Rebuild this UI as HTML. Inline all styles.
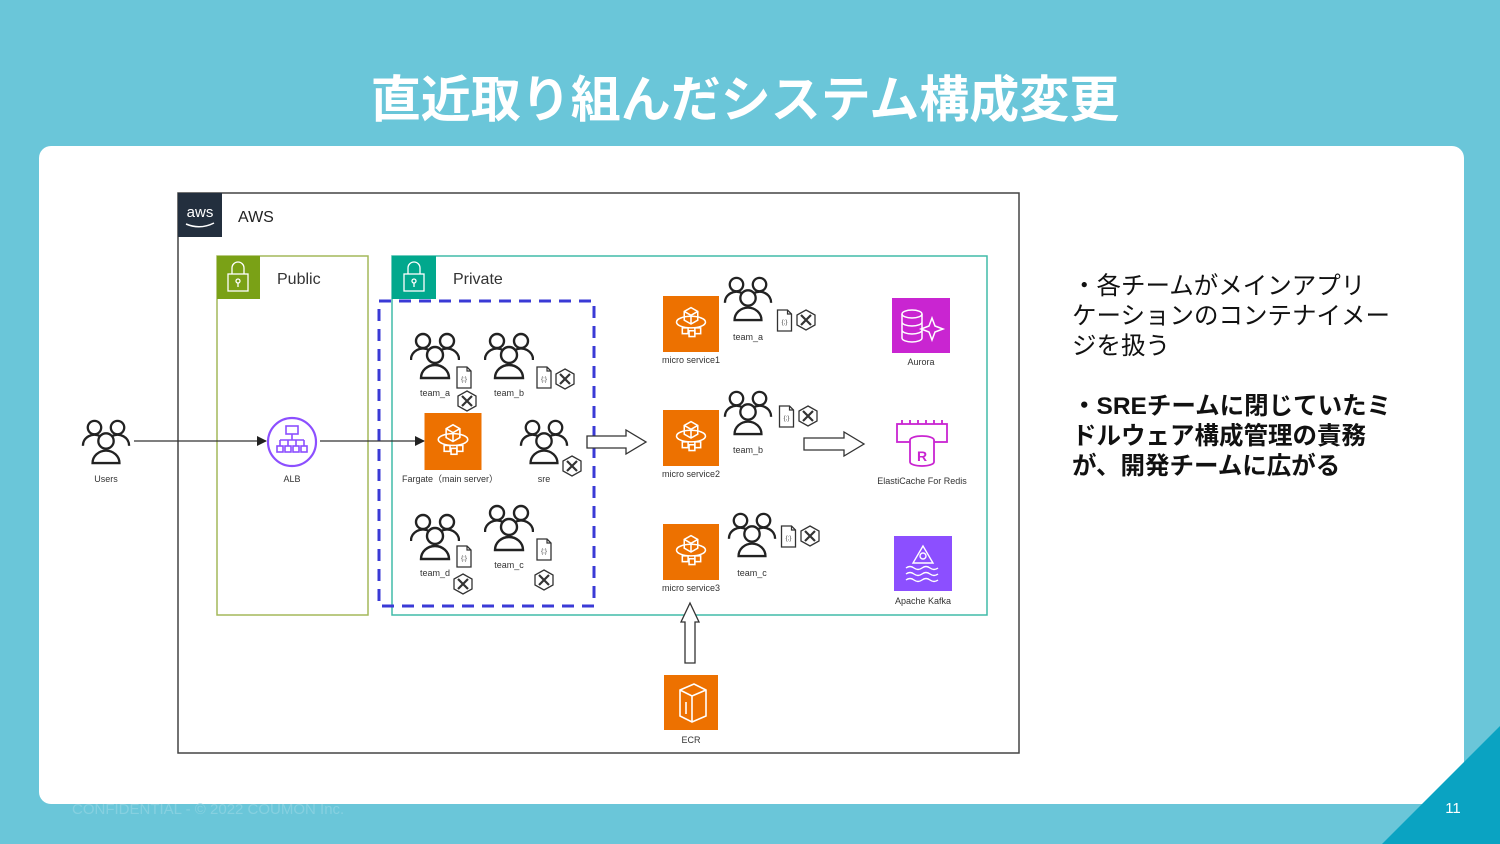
<!DOCTYPE html>
<html><head><meta charset="utf-8"><style>
html,body{margin:0;padding:0;width:1500px;height:844px;overflow:hidden;background:#6ac6d9;}
svg{display:block}
</style></head><body>
<svg width="1500" height="844" viewBox="0 0 1500 844" xmlns="http://www.w3.org/2000/svg" font-family="Liberation Sans, Noto Sans CJK JP, sans-serif">
<defs>
<symbol id="ppl" viewBox="0 0 50 50">
 <g fill="none" stroke="#222" stroke-width="2.4">
  <circle cx="13" cy="11" r="7"/><circle cx="37" cy="11" r="7"/>
  <path d="M1 30 a12 11 0 0 1 18 -10"/><path d="M49 30 a12 11 0 0 0 -18 -10"/>
  <circle cx="25" cy="25" r="8" fill="#fff"/>
  <path d="M11 48 a14 13 0 0 1 28 0 Z" fill="#fff"/>
 </g>
</symbol>
<symbol id="doc" viewBox="0 0 16 23">
 <path d="M1 1 H11 L15 5 V22 H1 Z" fill="#fff" stroke="#333" stroke-width="1.3"/>
 <path d="M11 1 V5 H15" fill="none" stroke="#333" stroke-width="1.2"/>
 <text x="8" y="15" font-size="6" text-anchor="middle" fill="#333">{;}</text>
</symbol>
<symbol id="tool" viewBox="0 0 22 22">
 <path d="M11 1 L20 6 V16 L11 21 L2 16 V6 Z" fill="#fff" stroke="#333" stroke-width="1.3"/>
 <path d="M6 6 L16 16 M16 6 L6 16" stroke="#333" stroke-width="2.2"/>
</symbol>
<symbol id="fg" viewBox="0 0 58 58">
 <rect width="58" height="58" fill="#ed7100"/>
 <g fill="none" stroke="#fff" stroke-width="1.6">
  <path d="M22 16 L29 12 L36 16 V25 L29 29 L22 25 Z M22 16 L29 20 L36 16 M29 20 V29"/>
  <ellipse cx="29" cy="27" rx="15" ry="6"/>
  <rect x="20" y="33" width="6" height="6"/><rect x="27" y="36" width="6" height="6"/><rect x="33" y="33" width="6" height="6"/>
 </g>
</symbol>
<marker id="ah" markerWidth="10" markerHeight="10" refX="9" refY="5" orient="auto" markerUnits="userSpaceOnUse"><path d="M0 0 L10 5 L0 10 Z" fill="#222"/></marker>
</defs>

<text x="745" y="117" font-size="50" font-weight="bold" fill="#fff" text-anchor="middle">直近取り組んだシステム構成変更</text>
<rect x="39" y="146" width="1425" height="658" rx="12" fill="#fff"/>
<text x="72" y="814" font-size="15" fill="#86d0e0">CONFIDENTIAL - © 2022 COUMON Inc.</text>
<path d="M1382 844 L1500 726 V844 Z" fill="#0aa3c2"/>
<text x="1453" y="813" font-size="15" fill="#fff" text-anchor="middle">11</text>

<!-- AWS -->
<rect x="178" y="193" width="841" height="560" fill="none" stroke="#444" stroke-width="1.5"/>
<rect x="178" y="193" width="44" height="44" fill="#232f3e"/>
<text x="200" y="217" font-size="15" fill="#fff" text-anchor="middle">aws</text>
<path d="M186 224 Q200 230 214 223" fill="none" stroke="#fff" stroke-width="1.5"/>
<text x="238" y="222" font-size="16" fill="#222">AWS</text>

<!-- Public -->
<rect x="217" y="256" width="151" height="359" fill="none" stroke="#a4b95a" stroke-width="1.5"/>
<rect x="217" y="256" width="43" height="43" fill="#7aa116"/>
<g fill="none" stroke="#fff" stroke-width="1.3"><path d="M232 274 V268 a6 6 0 0 1 12 0 V274"/><rect x="228" y="274" width="20" height="17"/><circle cx="238" cy="281" r="2"/><path d="M238 283 V287"/></g>
<text x="277" y="284" font-size="16" fill="#333">Public</text>

<!-- Private -->
<rect x="392" y="256" width="595" height="359" fill="none" stroke="#40bba8" stroke-width="1.5"/>
<rect x="392" y="256" width="44" height="43" fill="#01a88d"/>
<g fill="none" stroke="#fff" stroke-width="1.3"><path d="M408 274 V268 a6 6 0 0 1 12 0 V274"/><rect x="404" y="274" width="20" height="17"/><circle cx="414" cy="281" r="2"/><path d="M414 283 V287"/></g>
<text x="453" y="284" font-size="16" fill="#333">Private</text>

<rect x="379" y="301" width="215" height="305" fill="none" stroke="#3a3ad6" stroke-width="3" stroke-dasharray="12 8"/>

<!-- Users / ALB -->
<use href="#ppl" x="81" y="417" width="50" height="48"/>
<text x="106" y="482" font-size="9" fill="#333" text-anchor="middle">Users</text>
<line x1="134" y1="441" x2="266" y2="441" stroke="#333" stroke-width="1.3" marker-end="url(#ah)"/>
<circle cx="292" cy="442" r="24" fill="#fff" stroke="#8c4fff" stroke-width="2.2"/>
<g fill="none" stroke="#8c4fff" stroke-width="1.6"><rect x="286" y="426" width="12" height="8"/><path d="M292 434 V440 M280 440 H304 M280 440 V446 M288 440 V446 M296 440 V446 M304 440 V446"/><rect x="277" y="446" width="6" height="6"/><rect x="285" y="446" width="6" height="6"/><rect x="293" y="446" width="6" height="6"/><rect x="301" y="446" width="6" height="6"/></g>
<text x="292" y="482" font-size="9" fill="#333" text-anchor="middle">ALB</text>
<line x1="320" y1="441" x2="424" y2="441" stroke="#333" stroke-width="1.3" marker-end="url(#ah)"/>

<!-- Fargate group -->
<use href="#fg" x="424" y="413" width="58" height="57"/>
<text x="450" y="482" font-size="9" fill="#333" text-anchor="middle">Fargate（main server）</text>
<use href="#ppl" x="519" y="417" width="50" height="48"/>
<use href="#tool" x="561" y="455" width="22" height="22"/>
<text x="544" y="482" font-size="9" fill="#333" text-anchor="middle">sre</text>

<use href="#ppl" x="410" y="330" width="50" height="50"/>
<use href="#doc" x="456" y="366" width="16" height="23"/>
<use href="#tool" x="456" y="390" width="22" height="22"/>
<text x="435" y="396" font-size="9" fill="#333" text-anchor="middle">team_a</text>
<use href="#ppl" x="484" y="330" width="50" height="50"/>
<use href="#doc" x="536" y="366" width="16" height="23"/>
<use href="#tool" x="554" y="368" width="22" height="22"/>
<text x="509" y="396" font-size="9" fill="#333" text-anchor="middle">team_b</text>
<use href="#ppl" x="410" y="511" width="50" height="50"/>
<use href="#doc" x="456" y="545" width="16" height="23"/>
<use href="#tool" x="452" y="573" width="22" height="22"/>
<text x="435" y="576" font-size="9" fill="#333" text-anchor="middle">team_d</text>
<use href="#ppl" x="484" y="502" width="50" height="50"/>
<use href="#doc" x="536" y="538" width="16" height="23"/>
<use href="#tool" x="533" y="569" width="22" height="22"/>
<text x="509" y="568" font-size="9" fill="#333" text-anchor="middle">team_c</text>

<!-- hollow arrows -->
<path d="M587 436 H626 V430 L646 442 L626 454 V448 H587 Z" fill="#fff" stroke="#333" stroke-width="1.3"/>
<path d="M804 438 H844 V432 L864 444 L844 456 V450 H804 Z" fill="#fff" stroke="#333" stroke-width="1.3"/>
<path d="M685 663 V622 H681 L690 603 L699 622 H695 V663 Z" fill="#fff" stroke="#333" stroke-width="1.3"/>

<!-- micro services -->
<use href="#fg" x="662" y="296" width="58" height="56"/>
<text x="691" y="363" font-size="9" fill="#333" text-anchor="middle">micro service1</text>
<use href="#ppl" x="723" y="274" width="50" height="48"/>
<use href="#doc" x="776" y="309" width="17" height="23"/>
<use href="#tool" x="795" y="309" width="22" height="22"/>
<text x="748" y="340" font-size="9" fill="#333" text-anchor="middle">team_a</text>

<use href="#fg" x="662" y="410" width="58" height="56"/>
<text x="691" y="477" font-size="9" fill="#333" text-anchor="middle">micro service2</text>
<use href="#ppl" x="723" y="388" width="50" height="48"/>
<use href="#doc" x="778" y="405" width="17" height="23"/>
<use href="#tool" x="797" y="405" width="22" height="22"/>
<text x="748" y="453" font-size="9" fill="#333" text-anchor="middle">team_b</text>

<use href="#fg" x="662" y="524" width="58" height="56"/>
<text x="691" y="591" font-size="9" fill="#333" text-anchor="middle">micro service3</text>
<use href="#ppl" x="727" y="510" width="50" height="48"/>
<use href="#doc" x="780" y="525" width="17" height="23"/>
<use href="#tool" x="799" y="525" width="22" height="22"/>
<text x="752" y="576" font-size="9" fill="#333" text-anchor="middle">team_c</text>

<!-- Aurora -->
<rect x="892" y="298" width="58" height="55" fill="#c925d1"/>
<g fill="none" stroke="#fff" stroke-width="1.5"><ellipse cx="912" cy="314" rx="10" ry="4"/><path d="M902 314 V338 a10 4 0 0 0 20 0 V314 M902 322 a10 4 0 0 0 20 0 M902 330 a10 4 0 0 0 20 0"/><path d="M932 318 L935 326 L943 329 L935 332 L932 340 L929 332 L921 329 L929 326 Z"/></g>
<text x="921" y="365" font-size="9" fill="#333" text-anchor="middle">Aurora</text>
<!-- ElastiCache -->
<g fill="none" stroke="#c925d1" stroke-width="1.8"><rect x="897" y="424" width="50" height="18"/><path d="M902 424 V420 M910 424 V420 M918 424 V420 M926 424 V420 M934 424 V420 M942 424 V420"/><ellipse cx="922" cy="440" rx="12" ry="4" fill="#fff"/><path d="M910 440 V462 a12 4 0 0 0 24 0 V440" fill="#fff"/></g>
<text x="922" y="461" font-size="14" fill="#c925d1" text-anchor="middle" font-weight="bold">R</text>
<text x="922" y="484" font-size="9" fill="#333" text-anchor="middle">ElastiCache For Redis</text>
<!-- Kafka -->
<rect x="894" y="536" width="58" height="55" fill="#8c4fff"/>
<g fill="none" stroke="#fff" stroke-width="1.4"><path d="M923 546 L913 563 H933 Z"/><circle cx="923" cy="556" r="3"/><path d="M906 568 q4 -3 8 0 t8 0 t8 0 t8 0 M906 574 q4 -3 8 0 t8 0 t8 0 t8 0 M906 580 q4 -3 8 0 t8 0 t8 0 t8 0"/></g>
<text x="923" y="604" font-size="9" fill="#333" text-anchor="middle">Apache Kafka</text>
<!-- ECR -->
<rect x="664" y="675" width="54" height="55" fill="#ed7100"/>
<g fill="none" stroke="#fff" stroke-width="1.6"><path d="M680 690 L694 684 L706 690 V716 L692 722 L680 716 Z M680 690 L692 696 L706 690 M692 696 V722 M686 702 V714"/></g>
<text x="691" y="743" font-size="9" fill="#333" text-anchor="middle">ECR</text>

<!-- side text -->
<g font-size="24.5" fill="#111">
<text x="1072" y="294">・各チームがメインアプリ</text>
<text x="1072" y="324">ケーションのコンテナイメー</text>
<text x="1072" y="354">ジを扱う</text>
<g font-weight="bold">
<text x="1072" y="414">・SREチームに閉じていたミ</text>
<text x="1072" y="444">ドルウェア構成管理の責務</text>
<text x="1072" y="474">が、開発チームに広がる</text>
</g></g>
</svg>
</body></html>
